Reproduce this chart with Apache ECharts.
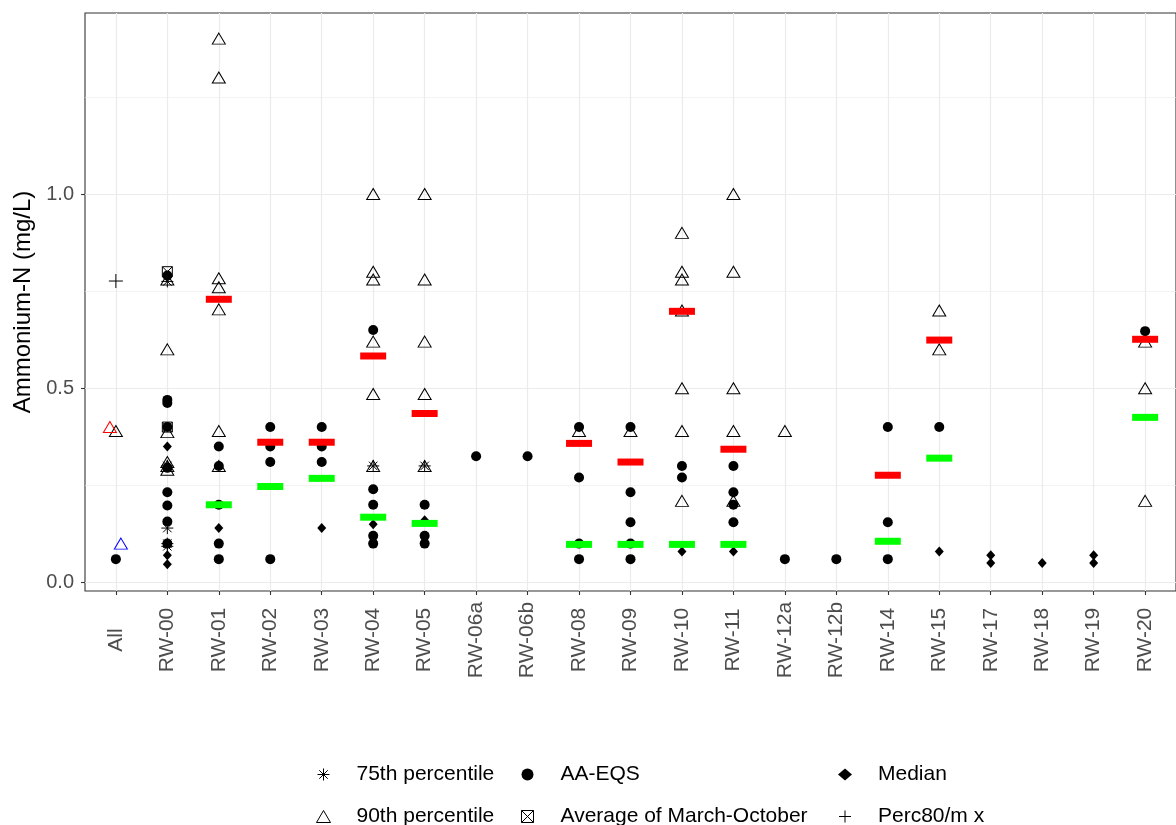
<!DOCTYPE html>
<html>
<head>
<meta charset="utf-8">
<script src="https://cdn.jsdelivr.net/npm/echarts@6/dist/echarts.min.js"></script>
<style>
  html, body { margin: 0; padding: 0; background: #fff; }
  #chart { width: 1176px; height: 825px; }
</style>
</head>
<body>
<div id="chart"></div>
<script>
// Sampling sites along the x axis
const categories = ['All', 'RW-00', 'RW-01', 'RW-02', 'RW-03', 'RW-04', 'RW-05', 'RW-06a', 'RW-06b',
  'RW-08', 'RW-09', 'RW-10', 'RW-11', 'RW-12a', 'RW-12b', 'RW-14', 'RW-15', 'RW-17', 'RW-18', 'RW-19', 'RW-20'];

// Y axis ticks (labelled) and minor grid lines
const yMajorTicks = [0, 0.5, 1.0];
const yMinorTicks = [0.25, 0.75, 1.25];

// Ammonium-N statistics per site (mg/L)
const perc75 = [
  ['RW-00', 0.775], ['RW-00', 0.30], ['RW-00', 0.14], ['RW-00', 0.10], ['RW-00', 0.093],
  ['RW-04', 0.30], ['RW-05', 0.30]
];
const perc90 = [
  ['All', 0.39],
  ['RW-00', 0.78], ['RW-00', 0.60], ['RW-00', 0.387], ['RW-00', 0.31], ['RW-00', 0.30], ['RW-00', 0.29],
  ['RW-01', 1.40], ['RW-01', 1.30], ['RW-01', 0.783], ['RW-01', 0.76], ['RW-01', 0.703], ['RW-01', 0.39], ['RW-01', 0.30],
  ['RW-04', 1.00], ['RW-04', 0.80], ['RW-04', 0.78], ['RW-04', 0.62], ['RW-04', 0.485], ['RW-04', 0.30],
  ['RW-05', 1.00], ['RW-05', 0.78], ['RW-05', 0.62], ['RW-05', 0.485], ['RW-05', 0.30],
  ['RW-08', 0.39], ['RW-09', 0.39],
  ['RW-10', 0.90], ['RW-10', 0.80], ['RW-10', 0.78], ['RW-10', 0.70], ['RW-10', 0.50], ['RW-10', 0.39], ['RW-10', 0.21],
  ['RW-11', 1.00], ['RW-11', 0.80], ['RW-11', 0.50], ['RW-11', 0.39], ['RW-11', 0.21],
  ['RW-12a', 0.39],
  ['RW-15', 0.70], ['RW-15', 0.60],
  ['RW-20', 0.62], ['RW-20', 0.50], ['RW-20', 0.21]
];
const aaEqs = [
  ['All', 0.06],
  ['RW-00', 0.79], ['RW-00', 0.47], ['RW-00', 0.462], ['RW-00', 0.40], ['RW-00', 0.295], ['RW-00', 0.232],
  ['RW-00', 0.198], ['RW-00', 0.157], ['RW-00', 0.10],
  ['RW-01', 0.35], ['RW-01', 0.30], ['RW-01', 0.20], ['RW-01', 0.10], ['RW-01', 0.06],
  ['RW-02', 0.40], ['RW-02', 0.35], ['RW-02', 0.31], ['RW-02', 0.06],
  ['RW-03', 0.40], ['RW-03', 0.35], ['RW-03', 0.31],
  ['RW-04', 0.65], ['RW-04', 0.24], ['RW-04', 0.20], ['RW-04', 0.12], ['RW-04', 0.10],
  ['RW-05', 0.20], ['RW-05', 0.12], ['RW-05', 0.10],
  ['RW-06a', 0.325], ['RW-06b', 0.325],
  ['RW-08', 0.40], ['RW-08', 0.27], ['RW-08', 0.10], ['RW-08', 0.06],
  ['RW-09', 0.40], ['RW-09', 0.232], ['RW-09', 0.155], ['RW-09', 0.10], ['RW-09', 0.06],
  ['RW-10', 0.30], ['RW-10', 0.27],
  ['RW-11', 0.30], ['RW-11', 0.232], ['RW-11', 0.20], ['RW-11', 0.155],
  ['RW-12a', 0.06], ['RW-12b', 0.06],
  ['RW-14', 0.40], ['RW-14', 0.155], ['RW-14', 0.06],
  ['RW-15', 0.40],
  ['RW-20', 0.647]
];
const avgMarOct = [['RW-00', 0.80], ['RW-00', 0.40]];
const median = [
  ['RW-00', 0.35], ['RW-00', 0.07], ['RW-00', 0.047],
  ['RW-01', 0.14], ['RW-03', 0.14], ['RW-04', 0.15], ['RW-05', 0.16],
  ['RW-10', 0.08], ['RW-11', 0.08], ['RW-15', 0.08],
  ['RW-17', 0.07], ['RW-17', 0.05], ['RW-18', 0.05], ['RW-19', 0.07], ['RW-19', 0.05]
];
const perc80mx = [['All', 0.776]];
const allHigh = [['All', 0.40]];
const allLow = [['All', 0.10]];
const redLevels = [
  ['RW-01', 0.729], ['RW-02', 0.361], ['RW-03', 0.361], ['RW-04', 0.583], ['RW-05', 0.435],
  ['RW-08', 0.358], ['RW-09', 0.31], ['RW-10', 0.698], ['RW-11', 0.343], ['RW-14', 0.276],
  ['RW-15', 0.624], ['RW-20', 0.626]
];
const greenLevels = [
  ['RW-01', 0.20], ['RW-02', 0.247], ['RW-03', 0.268], ['RW-04', 0.168], ['RW-05', 0.152],
  ['RW-08', 0.098], ['RW-09', 0.098], ['RW-10', 0.098], ['RW-11', 0.098], ['RW-14', 0.106],
  ['RW-15', 0.32], ['RW-20', 0.425]
];

const toXY = rows => rows.map(([site, v]) => [categories.indexOf(site), v]);
const catIdx = categories.map((_, i) => i);

// Stroke-only marker shapes
const ASTERISK = 'path://M10,0L10,20M0,10L20,10M2.93,2.93L17.07,17.07M2.93,17.07L17.07,2.93';
const SQUARE_X = 'path://M0,0L20,0L20,20L0,20ZM0,0L20,20M0,20L20,0';
const PLUS = 'path://M10,0L10,20M0,10L20,10';

const FONT = 'Liberation Sans, Arial, sans-serif';
const HOLLOW = 'rgba(0,0,0,0)';

// Panel grid lines, kept underneath every mark
const gridLineSeries = {
  type: 'scatter', name: '_grid', data: [], silent: true, z: 0,
  markLine: {
    silent: true, z: 0, symbol: ['none', 'none'], label: { show: false }, animation: false,
    data: [
      ...yMinorTicks.map(v => ({ yAxis: v, lineStyle: { color: '#EBEBEB', width: 0.6, type: 'solid' } })),
      ...yMajorTicks.map(v => ({ yAxis: v, lineStyle: { color: '#EBEBEB', width: 1.2, type: 'solid' } })),
      ...catIdx.map(v => ({ xAxis: v, lineStyle: { color: '#EBEBEB', width: 1.2, type: 'solid' } }))
    ]
  }
};

const legendBase = {
  orient: 'vertical', top: 764, height: 120, padding: 0, itemWidth: 14, itemHeight: 12, itemGap: 21,
  selectedMode: false,
  textStyle: { fontFamily: FONT, fontSize: 21, color: '#000', lineHeight: 20, padding: [0, 0, 0, 21] }
};
const blackStroke = { color: HOLLOW, borderColor: '#000', borderWidth: 1, opacity: 1 };
const solid = c => ({ color: c, opacity: 1 });

const option = {
  animation: false,
  backgroundColor: '#fff',
  grid: { left: 85, top: 13, right: -11, bottom: 234, show: true, borderColor: '#333', borderWidth: 1.1 },
  xAxis: {
    type: 'value', min: -0.6, max: 20.6,
    splitLine: { show: false }, axisLine: { show: false, onZero: false },
    axisTick: { show: true, customValues: catIdx, length: 4, lineStyle: { color: '#333', width: 1.1 } },
    axisLabel: {
      customValues: catIdx, formatter: v => categories[v], rotate: 90, margin: 49,
      align: 'center', verticalAlign: 'middle',
      color: '#4D4D4D', fontSize: 21, fontFamily: FONT
    }
  },
  yAxis: {
    type: 'value', min: -0.022, max: 1.466,
    name: 'Ammonium-N (mg/L)', nameLocation: 'middle', nameGap: 44,
    nameTextStyle: { fontFamily: FONT, fontSize: 24, color: '#000' },
    splitLine: { show: false }, axisLine: { show: false, onZero: false },
    axisTick: { show: true, customValues: yMajorTicks, length: 4, lineStyle: { color: '#333', width: 1.1 } },
    axisLabel: {
      customValues: yMajorTicks, formatter: v => v.toFixed(1), margin: 11,
      color: '#4D4D4D', fontSize: 20, fontFamily: FONT
    }
  },
  legend: [
    Object.assign({}, legendBase, { left: 316, data: [
      { name: '75th percentile', icon: ASTERISK, itemStyle: blackStroke },
      { name: '90th percentile', icon: 'triangle', itemStyle: blackStroke }
    ] }),
    Object.assign({}, legendBase, { left: 521, data: [
      { name: 'AA-EQS', icon: 'circle', itemStyle: { color: '#000', borderWidth: 0, opacity: 1 } },
      { name: 'Average of March-October', icon: SQUARE_X, itemStyle: blackStroke }
    ] }),
    Object.assign({}, legendBase, { left: 838, data: [
      { name: 'Median', icon: 'diamond', itemStyle: { color: '#000', borderWidth: 0, opacity: 1 } },
      { name: 'Perc80/m x', icon: PLUS, itemStyle: blackStroke }
    ] })
  ],
  series: [
    gridLineSeries,
    { type: 'scatter', name: '90th percentile', data: toXY(perc90), symbol: 'triangle', symbolSize: [13, 11],
      itemStyle: blackStroke, z: 2 },
    { type: 'scatter', name: 'AA-EQS', data: toXY(aaEqs), symbol: 'circle', symbolSize: 10,
      itemStyle: solid('#000'), z: 2 },
    { type: 'scatter', name: 'Median', data: toXY(median), symbol: 'diamond', symbolSize: [9, 10],
      itemStyle: solid('#000'), z: 2 },
    { type: 'scatter', name: '75th percentile', data: toXY(perc75), symbol: ASTERISK, symbolSize: 12,
      itemStyle: blackStroke, z: 2 },
    { type: 'scatter', name: 'Average of March-October', data: toXY(avgMarOct), symbol: SQUARE_X, symbolSize: 10,
      itemStyle: blackStroke, z: 2 },
    { type: 'scatter', name: 'Perc80/m x', data: toXY(perc80mx), symbol: PLUS, symbolSize: 14,
      itemStyle: blackStroke, z: 2 },
    { type: 'scatter', name: 'All high', data: toXY(allHigh), symbol: 'triangle', symbolSize: [13, 11],
      symbolOffset: [-6, 0], itemStyle: { color: HOLLOW, borderColor: '#FF0000', borderWidth: 1, opacity: 1 }, z: 2 },
    { type: 'scatter', name: 'All low', data: toXY(allLow), symbol: 'triangle', symbolSize: [13, 11],
      symbolOffset: [5, 0], itemStyle: { color: HOLLOW, borderColor: '#0000FF', borderWidth: 1, opacity: 1 }, z: 2 },
    { type: 'scatter', name: 'Upper level', data: toXY(redLevels), symbol: 'rect', symbolSize: [26, 7],
      itemStyle: solid('#FF0000'), z: 4 },
    { type: 'scatter', name: 'Lower level', data: toXY(greenLevels), symbol: 'rect', symbolSize: [26, 7],
      itemStyle: solid('#00FF00'), z: 4 }
  ]
};

const chart = echarts.init(document.getElementById('chart'), null, { renderer: 'canvas' });
chart.setOption(option);
</script>
</body>
</html>
